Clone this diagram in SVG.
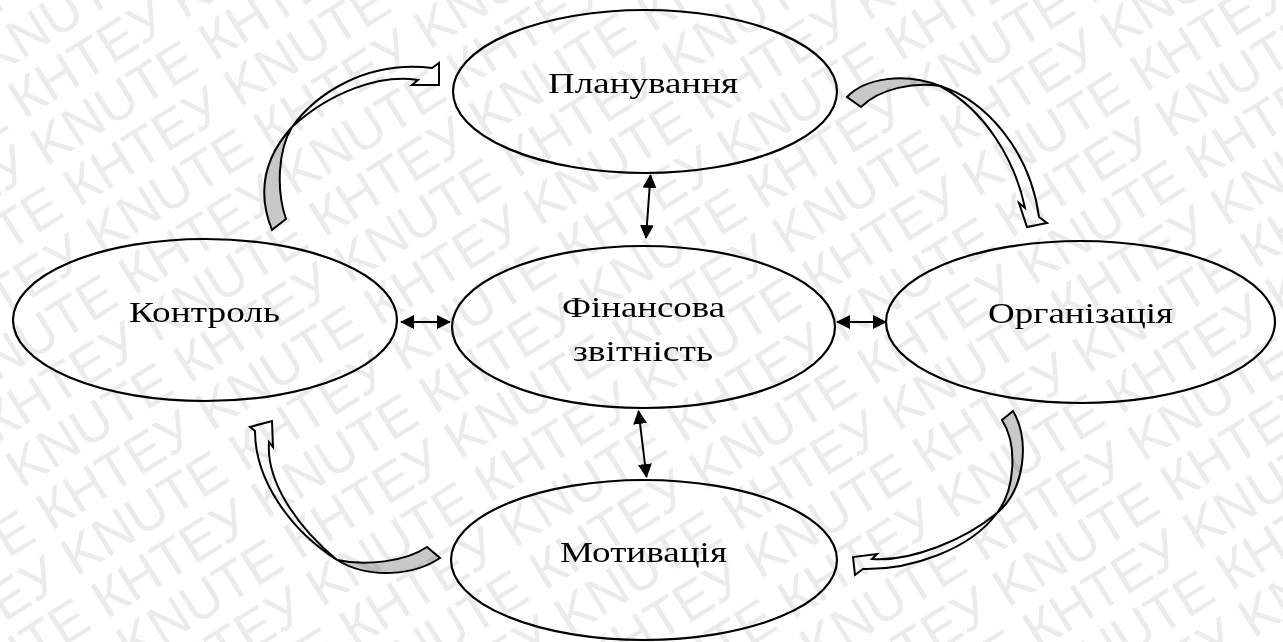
<svg xmlns="http://www.w3.org/2000/svg" width="1283" height="642" viewBox="0 0 1283 642">
<style>
.wm{font-family:"Liberation Sans",Arial,sans-serif;font-size:54px;fill:#ebebeb}
.node ellipse{fill:#ffffff;stroke:#000;stroke-width:2.2}
.link{stroke:#000;stroke-width:2;fill:none}
.cw{fill:#ffffff;stroke:#000;stroke-width:2;stroke-linejoin:miter}
.cg{fill:#c8c8c8;stroke:#000;stroke-width:2;stroke-linejoin:miter}
</style>
<defs>
<marker id="ah" viewBox="0 0 14 14" refX="13" refY="7" markerWidth="14" markerHeight="14" markerUnits="userSpaceOnUse" orient="auto-start-reverse">
<path d="M0,0 L14,7 L0,14 Z" fill="#000"/>
</marker>
</defs>
<rect x="0" y="0" width="1283" height="642" fill="#ffffff"/>
<g id="connectors">
<line class="link" x1="650.5" y1="175" x2="646" y2="238" marker-start="url(#ah)" marker-end="url(#ah)"/>
<line class="link" x1="638.5" y1="411" x2="646.5" y2="477" marker-start="url(#ah)" marker-end="url(#ah)"/>
<line class="link" x1="401" y1="322" x2="450" y2="322" marker-start="url(#ah)" marker-end="url(#ah)"/>
<line class="link" x1="837" y1="322" x2="886" y2="322" marker-start="url(#ah)" marker-end="url(#ah)"/>
<g id="arrow-control-planning">
<path class="cg" d="M272,230 C258,195 262,160 292,127 C278,150 276,190 286,219 Z"/>
<path class="cw" d="M292,127 C315,95 365,60 432,68 L439,63 L439,85 L412,85 L418,80 C380,74 330,92 292,127 Z"/>
</g>
<g id="arrow-planning-organization">
<path class="cg" d="M847,97 C865,78 905,72 940,86 C915,82 880,88 861,107 Z"/>
<path class="cw" d="M940,86 C985,100 1030,150 1039,217 L1047,223 L1027,227 L1019,203 L1025,208 C1015,160 985,110 940,86 Z"/>
</g>
<g id="arrow-organization-motivation">
<path class="cg" d="M1013,411 C1030,440 1025,490 997,513 C1015,490 1018,445 1002,420 Z"/>
<path class="cw" d="M997,513 C970,550 910,570 863,569 L855,575 L853,557 L877,554 L872,559 C910,562 965,540 997,513 Z"/>
</g>
<g id="arrow-motivation-control">
<path class="cg" d="M440,558 C415,575 370,580 337,560 C365,566 405,562 427,547 Z"/>
<path class="cw" d="M337,560 C290,530 255,480 255,431 L250,427 L272,421 L273,447 L269,442 C266,480 295,525 337,560 Z"/>
</g>
</g>
<g id="node-planning" class="node">
<ellipse cx="645" cy="91.5" rx="192" ry="81.5"/>
<text x="643" y="93" font-family="Liberation Serif, DejaVu Serif, serif" font-size="30" text-anchor="middle" textLength="190" lengthAdjust="spacingAndGlyphs" fill="#000">Планування</text>
</g>
<g id="node-report" class="node">
<ellipse cx="643.5" cy="327" rx="191.5" ry="81"/>
<text x="643.5" y="317" font-family="Liberation Serif, DejaVu Serif, serif" font-size="30" text-anchor="middle" textLength="163" lengthAdjust="spacingAndGlyphs" fill="#000">Фінансова</text>
<text x="643" y="361" font-family="Liberation Serif, DejaVu Serif, serif" font-size="30" text-anchor="middle" textLength="140" lengthAdjust="spacingAndGlyphs" fill="#000">звітність</text>
</g>
<g id="node-control" class="node">
<ellipse cx="205" cy="320" rx="192" ry="81"/>
<text x="204.5" y="322" font-family="Liberation Serif, DejaVu Serif, serif" font-size="30" text-anchor="middle" textLength="151" lengthAdjust="spacingAndGlyphs" fill="#000">Контроль</text>
</g>
<g id="node-organization" class="node">
<ellipse cx="1080.5" cy="322" rx="194.5" ry="81"/>
<text x="1080.5" y="323" font-family="Liberation Serif, DejaVu Serif, serif" font-size="30" text-anchor="middle" textLength="185" lengthAdjust="spacingAndGlyphs" fill="#000">Організація</text>
</g>
<g id="node-motivation" class="node">
<ellipse cx="644" cy="560" rx="193" ry="80"/>
<text x="643.5" y="562" font-family="Liberation Serif, DejaVu Serif, serif" font-size="30" text-anchor="middle" textLength="167" lengthAdjust="spacingAndGlyphs" fill="#000">Мотивація</text>
</g>
<g id="watermark" style="mix-blend-mode:multiply" transform="rotate(-32)">
<text class="wm" x="-430" y="10">КНТЕУ KNUTE КНТЕУ KNUTE КНТЕУ KNUTE КНТЕУ KNUTE КНТЕУ KNUTE</text>
<text class="wm" x="-625" y="62">КНТЕУ KNUTE КНТЕУ KNUTE КНТЕУ KNUTE КНТЕУ KNUTE КНТЕУ KNUTE</text>
<text class="wm" x="-430" y="114">КНТЕУ KNUTE КНТЕУ KNUTE КНТЕУ KNUTE КНТЕУ KNUTE КНТЕУ KNUTE</text>
<text class="wm" x="-625" y="166">КНТЕУ KNUTE КНТЕУ KNUTE КНТЕУ KNUTE КНТЕУ KNUTE КНТЕУ KNUTE</text>
<text class="wm" x="-430" y="218">КНТЕУ KNUTE КНТЕУ KNUTE КНТЕУ KNUTE КНТЕУ KNUTE КНТЕУ KNUTE</text>
<text class="wm" x="-625" y="270">КНТЕУ KNUTE КНТЕУ KNUTE КНТЕУ KNUTE КНТЕУ KNUTE КНТЕУ KNUTE</text>
<text class="wm" x="-430" y="322">КНТЕУ KNUTE КНТЕУ KNUTE КНТЕУ KNUTE КНТЕУ KNUTE КНТЕУ KNUTE</text>
<text class="wm" x="-625" y="374">КНТЕУ KNUTE КНТЕУ KNUTE КНТЕУ KNUTE КНТЕУ KNUTE КНТЕУ KNUTE</text>
<text class="wm" x="-430" y="426">КНТЕУ KNUTE КНТЕУ KNUTE КНТЕУ KNUTE КНТЕУ KNUTE КНТЕУ KNUTE</text>
<text class="wm" x="-625" y="478">КНТЕУ KNUTE КНТЕУ KNUTE КНТЕУ KNUTE КНТЕУ KNUTE КНТЕУ KNUTE</text>
<text class="wm" x="-430" y="530">КНТЕУ KNUTE КНТЕУ KNUTE КНТЕУ KNUTE КНТЕУ KNUTE КНТЕУ KNUTE</text>
<text class="wm" x="-625" y="582">КНТЕУ KNUTE КНТЕУ KNUTE КНТЕУ KNUTE КНТЕУ KNUTE КНТЕУ KNUTE</text>
<text class="wm" x="-430" y="634">КНТЕУ KNUTE КНТЕУ KNUTE КНТЕУ KNUTE КНТЕУ KNUTE КНТЕУ KNUTE</text>
<text class="wm" x="-625" y="686">КНТЕУ KNUTE КНТЕУ KNUTE КНТЕУ KNUTE КНТЕУ KNUTE КНТЕУ KNUTE</text>
<text class="wm" x="-430" y="738">КНТЕУ KNUTE КНТЕУ KNUTE КНТЕУ KNUTE КНТЕУ KNUTE КНТЕУ KNUTE</text>
<text class="wm" x="-625" y="790">КНТЕУ KNUTE КНТЕУ KNUTE КНТЕУ KNUTE КНТЕУ KNUTE КНТЕУ KNUTE</text>
<text class="wm" x="-430" y="842">КНТЕУ KNUTE КНТЕУ KNUTE КНТЕУ KNUTE КНТЕУ KNUTE КНТЕУ KNUTE</text>
<text class="wm" x="-625" y="894">КНТЕУ KNUTE КНТЕУ KNUTE КНТЕУ KNUTE КНТЕУ KNUTE КНТЕУ KNUTE</text>
<text class="wm" x="-430" y="946">КНТЕУ KNUTE КНТЕУ KNUTE КНТЕУ KNUTE КНТЕУ KNUTE КНТЕУ KNUTE</text>
<text class="wm" x="-625" y="998">КНТЕУ KNUTE КНТЕУ KNUTE КНТЕУ KNUTE КНТЕУ KNUTE КНТЕУ KNUTE</text>
<text class="wm" x="-430" y="1050">КНТЕУ KNUTE КНТЕУ KNUTE КНТЕУ KNUTE КНТЕУ KNUTE КНТЕУ KNUTE</text>
<text class="wm" x="-625" y="1102">КНТЕУ KNUTE КНТЕУ KNUTE КНТЕУ KNUTE КНТЕУ KNUTE КНТЕУ KNUTE</text>
<text class="wm" x="-430" y="1154">КНТЕУ KNUTE КНТЕУ KNUTE КНТЕУ KNUTE КНТЕУ KNUTE КНТЕУ KNUTE</text>
<text class="wm" x="-625" y="1206">КНТЕУ KNUTE КНТЕУ KNUTE КНТЕУ KNUTE КНТЕУ KNUTE КНТЕУ KNUTE</text>
<text class="wm" x="-430" y="1258">КНТЕУ KNUTE КНТЕУ KNUTE КНТЕУ KNUTE КНТЕУ KNUTE КНТЕУ KNUTE</text>
</g>
</svg>
